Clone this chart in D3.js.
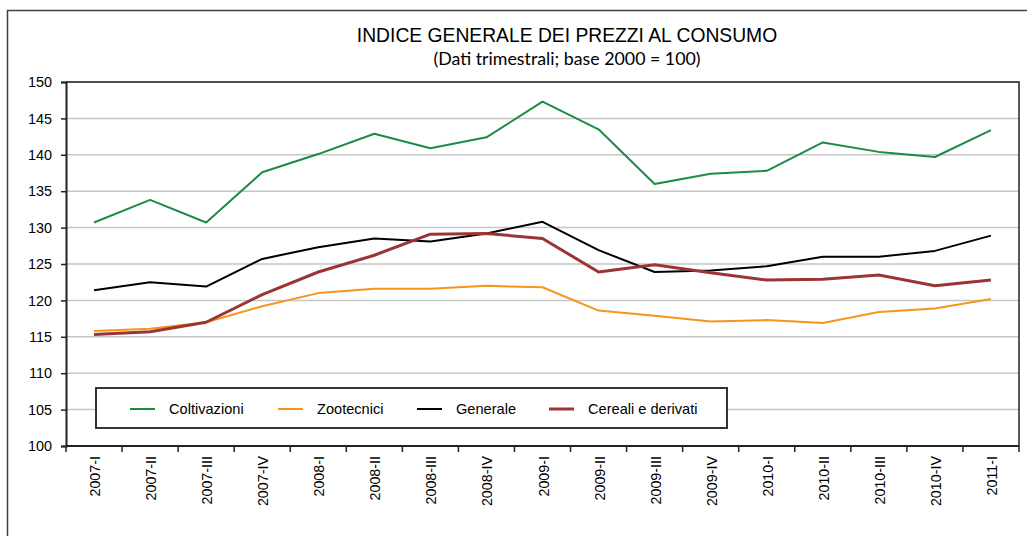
<!DOCTYPE html>
<html>
<head>
<meta charset="utf-8">
<script src="https://cdn.jsdelivr.net/npm/d3@7"></script>
<style>
  body { margin: 0; background: #fff; }
  svg { display: block; }
</style>
</head>
<body>
<div id="chart"></div>
<script>
// categories (quarters)
var quarters = ['2007-I','2007-II','2007-III','2007-IV','2008-I','2008-II','2008-III','2008-IV',
	'2009-I','2009-II','2009-III','2009-IV','2010-I','2010-II','2010-III','2010-IV','2011-I'];

// series values
var coltivazioni = [130.7,133.8,130.7,137.6,140.1,142.9,140.9,142.4,147.3,143.5,136.0,137.4,137.8,141.7,140.4,139.7,143.4];
var zootecnici   = [115.8,116.1,117.0,119.2,121.0,121.6,121.6,122.0,121.8,118.6,117.9,117.1,117.3,116.9,118.4,118.9,120.2];
var generale     = [121.4,122.5,121.9,125.7,127.3,128.5,128.1,129.2,130.8,126.9,123.9,124.1,124.7,126.0,126.0,126.8,128.9];
var cereali      = [115.3,115.7,117.0,120.8,123.9,126.2,129.1,129.2,128.5,123.9,124.9,123.8,122.8,122.9,123.5,122.0,122.8];

var seriesNames = ['Coltivazioni','Zootecnici','Generale','Cereali e derivati'];
var yTicks = [100,105,110,115,120,125,130,135,140,145,150];

var titleText = 'INDICE GENERALE DEI PREZZI AL CONSUMO';
var subtitleText = '(Dati trimestrali; base 2000 = 100)';

//------------------------------------------------------------------------------
var W = 1027, H = 536;
var plot = { left: 66, top: 82, right: 1019, bottom: 446 };
var FONT = '"Liberation Sans", Arial, sans-serif';

var svg = d3.select('#chart').append('svg')
	.attr('width', W)
	.attr('height', H)
	.style('font-family', FONT);

// outer frame (cut by the picture at right and bottom)
svg.append('rect')
	.attr('x', 7.5).attr('y', 10.5)
	.attr('width', W + 20).attr('height', H + 20)
	.attr('fill', '#fff')
	.attr('stroke', '#404040')
	.attr('stroke-width', 1.5);

svg.append('text')
	.attr('x', 567).attr('y', 42)
	.attr('text-anchor', 'middle')
	.style('font-size', '19.3px')
	.attr('fill', '#000')
	.text(titleText);

svg.append('text')
	.attr('x', 567).attr('y', 65)
	.attr('text-anchor', 'middle')
	.style('font-family', 'Lato, "Open Sans", sans-serif')
	.style('font-size', '17.8px')
	.attr('fill', '#000')
	.text(subtitleText);

var x = d3.scaleBand()
	.domain(quarters)
	.range([plot.left, plot.right]);

var y = d3.scaleLinear()
	.domain([100, 150])
	.range([plot.bottom, plot.top]);

// grid
svg.append('g')
	.selectAll('line')
	.data(yTicks.slice(1))
	.enter()
	.append('line')
	.attr('x1', plot.left).attr('x2', plot.right)
	.attr('y1', function(d) { return y(d); })
	.attr('y2', function(d) { return y(d); })
	.attr('stroke', '#c6c6c6')
	.attr('stroke-width', 1.5);

// plot frame top/right
svg.append('path')
	.attr('d', 'M' + plot.left + ',' + plot.top + 'H' + plot.right + 'V' + plot.bottom)
	.attr('fill', 'none')
	.attr('stroke', '#222')
	.attr('stroke-width', 1.5);

// y axis
var yAxis = svg.append('g')
	.attr('transform', 'translate(' + plot.left + ',0)')
	.call(d3.axisLeft(y).tickValues(yTicks).tickSize(5).tickPadding(9));
yAxis.select('.domain').attr('stroke', '#222').attr('stroke-width', 2);
yAxis.selectAll('.tick line').attr('stroke', '#222').attr('stroke-width', 1.5);
yAxis.selectAll('text')
	.style('font-size', '14.4px')
	.style('font-family', FONT)
	.attr('fill', '#000');

// x axis: ticks at band boundaries
var xAxisG = svg.append('g');
xAxisG.append('line')
	.attr('x1', plot.left).attr('x2', plot.right)
	.attr('y1', plot.bottom).attr('y2', plot.bottom)
	.attr('stroke', '#222')
	.attr('stroke-width', 2);
xAxisG.selectAll('.xtick')
	.data(quarters.concat(['end']))
	.enter()
	.append('line')
	.attr('class', 'xtick')
	.attr('x1', function(d, i) { return i < quarters.length ? x(d) : plot.right; })
	.attr('x2', function(d, i) { return i < quarters.length ? x(d) : plot.right; })
	.attr('y1', plot.bottom).attr('y2', plot.bottom + 6)
	.attr('stroke', '#222')
	.attr('stroke-width', 1.5);
xAxisG.selectAll('.xlabel')
	.data(quarters)
	.enter()
	.append('text')
	.attr('class', 'xlabel')
	.attr('transform', function(d) {
		return 'translate(' + (x(d) + x.bandwidth() / 2 + 1) + ',' + (plot.bottom + 10) + ') rotate(-90)';
	})
	.attr('dy', '0.35em')
	.attr('text-anchor', 'end')
	.style('font-size', '14.3px')
	.attr('fill', '#000')
	.text(function(d) { return d; });

// legend box (drawn before lines, covers grid)
var legend = svg.append('g');
legend.append('rect')
	.attr('x', 96).attr('y', 388)
	.attr('width', 631).attr('height', 40)
	.attr('fill', '#fff')
	.attr('stroke', '#333')
	.attr('stroke-width', 2);

var series = [
	{ name: seriesNames[0], values: coltivazioni, color: '#1b8b45', width: 2 },
	{ name: seriesNames[1], values: zootecnici,   color: '#f7941d', width: 2 },
	{ name: seriesNames[2], values: generale,     color: '#000000', width: 2 },
	{ name: seriesNames[3], values: cereali,      color: '#9b3434', width: 3 }
];
var legendX = [130, 278, 417, 549];

legend.selectAll('.lg')
	.data(series)
	.enter()
	.append('g')
	.attr('class', 'lg')
	.each(function(d, i) {
		var g = d3.select(this);
		g.append('line')
			.attr('x1', legendX[i]).attr('x2', legendX[i] + 25)
			.attr('y1', 409).attr('y2', 409)
			.attr('stroke', d.color)
			.attr('stroke-width', d.width);
		g.append('text')
			.attr('x', legendX[i] + 39).attr('y', 414)
			.style('font-size', '14.6px')
			.attr('fill', '#000')
			.text(d.name);
	});

var line = d3.line()
	.x(function(d, i) { return x(quarters[i]) + x.bandwidth() / 2; })
	.y(function(d) { return y(d); });

svg.append('g')
	.selectAll('path')
	.data(series)
	.enter()
	.append('path')
	.attr('d', function(d) { return line(d.values); })
	.attr('fill', 'none')
	.attr('stroke', function(d) { return d.color; })
	.attr('stroke-width', function(d) { return d.width; })
	.attr('stroke-linejoin', 'round');
</script>
</body>
</html>
